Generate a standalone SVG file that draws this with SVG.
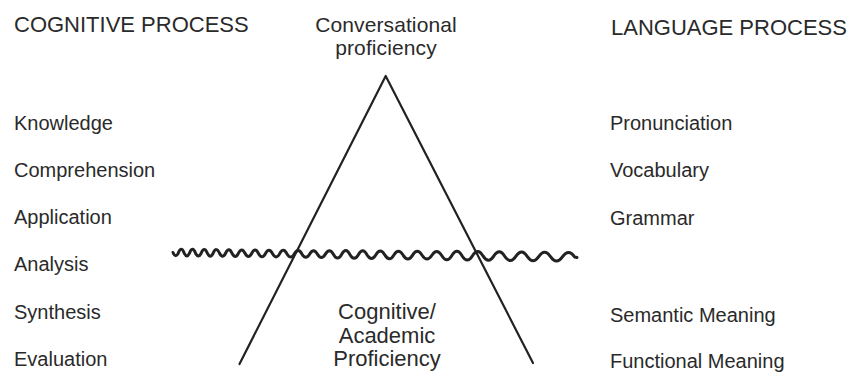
<svg xmlns="http://www.w3.org/2000/svg" width="854" height="372" viewBox="0 0 854 372">
<style>
text{font-family:"Liberation Sans",Arial,Helvetica,sans-serif;fill:#2a2a2a}
.h{font-size:22px}
.i{font-size:20px}
.c{font-size:22px;text-anchor:middle}
.t{font-size:21px;text-anchor:middle;letter-spacing:0.1px}
.ln{fill:none;stroke:#222;stroke-width:2.2;stroke-linecap:round;stroke-linejoin:round}
.wv{fill:none;stroke:#222;stroke-width:3;stroke-linecap:round;stroke-linejoin:round}
</style>
<rect width="854" height="372" fill="#fff"/>
<g id="cognitive-header"><text class="h" x="14" y="32">COGNITIVE PROCESS</text></g>
<g id="language-header"><text class="h" x="611" y="35">LANGUAGE PROCESS</text></g>
<g id="conversational"><text class="t" x="386" y="32">Conversational</text><text class="t" x="386" y="55">proficiency</text></g>
<g id="calp"><text class="c" x="387" y="319">Cognitive/</text><text class="c" x="387" y="343">Academic</text><text class="c" x="387" y="366">Proficiency</text></g>
<g id="knowledge"><text class="i" x="14" y="129.5">Knowledge</text></g>
<g id="comprehension"><text class="i" x="14" y="177">Comprehension</text></g>
<g id="application"><text class="i" x="14" y="224">Application</text></g>
<g id="analysis"><text class="i" x="14" y="271">Analysis</text></g>
<g id="synthesis"><text class="i" x="14" y="318.5">Synthesis</text></g>
<g id="evaluation"><text class="i" x="14" y="365.5">Evaluation</text></g>
<g id="pronunciation"><text class="i" x="610" y="129.5">Pronunciation</text></g>
<g id="vocabulary"><text class="i" x="610" y="177">Vocabulary</text></g>
<g id="grammar"><text class="i" x="610" y="225">Grammar</text></g>
<g id="semantic"><text class="i" x="610" y="321.5">Semantic Meaning</text></g>
<g id="functional"><text class="i" x="610" y="368">Functional Meaning</text></g>
<g id="connectors">
<path id="triangle" class="ln" d="M239.5,364 L385.7,76 L533,363"/>
<path id="waterline" class="wv" d="M173,252.5 Q175.8,259.1 178.5,252.5 Q181.3,245.9 184,252.6 Q186.9,259.2 189.7,252.6 Q192.6,246.0 195.4,252.8 Q198.4,259.4 201.3,252.8 Q204.3,246.2 207.2,252.9 Q210.3,259.5 213.3,252.9 Q216.4,246.3 219.4,253.0 Q222.6,259.6 225.7,253.0 Q228.9,246.4 232.0,253.2 Q235.3,259.8 238.5,253.2 Q241.8,246.6 245.0,253.3 Q248.4,259.9 251.8,253.3 Q255.1,246.7 258.5,253.5 Q262.0,260.1 265.5,253.5 Q269.0,246.9 272.5,253.6 Q276.1,260.2 279.7,253.6 Q283.3,247.0 286.9,253.8 Q290.7,260.4 294.4,253.8 Q298.2,247.2 301.9,253.9 Q305.8,260.5 309.7,253.9 Q313.5,247.3 317.4,254.1 Q321.4,260.7 325.4,254.1 Q329.4,247.5 333.4,254.3 Q337.5,261.9 341.7,254.3 Q345.8,246.7 349.9,254.5 Q354.2,262.1 358.5,254.5 Q362.7,246.9 367.0,254.7 Q371.5,262.3 375.9,254.7 Q380.4,247.1 384.8,254.9 Q389.4,262.5 393.9,254.9 Q398.5,247.3 403.1,255.1 Q407.9,262.7 412.6,255.1 Q417.4,247.5 422.1,255.3 Q427.0,262.9 431.9,255.3 Q436.8,247.7 441.7,255.5 Q446.8,264.1 451.9,255.5 Q456.9,246.9 462.0,255.7 Q467.3,264.3 472.5,255.7 Q477.8,247.1 483.0,255.9 Q488.4,264.5 493.9,255.9 Q499.3,247.3 504.7,256.2 Q510.3,264.8 516.0,256.2 Q521.6,247.6 527.2,256.4 Q533.0,265.0 538.9,256.4 Q544.7,247.8 550.5,256.7 Q556.5,265.3 562.6,256.7 Q568.6,248.1 574.6,257.0 L577,257.5"/>
</g>
</svg>
